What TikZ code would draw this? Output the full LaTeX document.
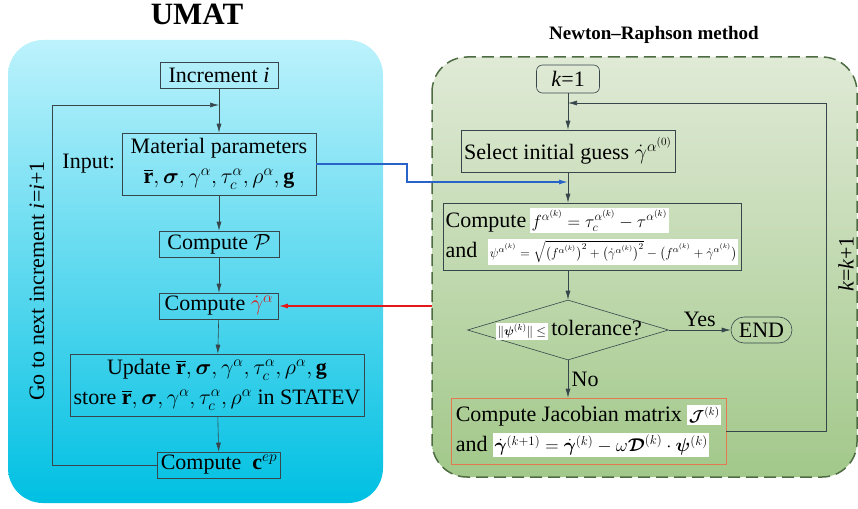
\documentclass[tikz,border=0pt]{standalone}
\usepackage{fix-cm}
\usepackage{amsmath,bm}
\usepackage{fontspec}
\setmainfont{Liberation Serif}
\usetikzlibrary{shapes.geometric,arrows.meta,positioning}

\definecolor{umatTop}{RGB}{188,242,252}
\definecolor{umatMid}{RGB}{80,220,242}
\definecolor{umatBot}{RGB}{0,192,226}
\definecolor{nrTop}{RGB}{224,234,214}
\definecolor{nrBot}{RGB}{162,200,138}
\definecolor{nrEdge}{RGB}{78,108,66}
\definecolor{lineGray}{RGB}{55,70,75}
\definecolor{flowBlue}{RGB}{40,100,200}
\definecolor{flowRed}{RGB}{225,25,25}
\definecolor{jacOrange}{RGB}{228,120,80}

\newcommand{\boxfont}{\fontsize{22}{30}\selectfont}
\newcommand{\eqfont}{\fontsize{17.5}{20}\selectfont}
\newcommand{\smalleqfont}{\fontsize{12.5}{14}\selectfont}
\newcommand{\tinyeqfont}{\fontsize{13}{15}\selectfont}
\setlength{\fboxsep}{1.5pt}

\tikzset{every picture/.style={line width=0.75pt}}
\tikzset{
  procbox/.style={draw=lineGray, line width=0.6pt, inner sep=0pt, font=\boxfont, align=center},
  flowarr/.style={draw=lineGray, line width=0.6pt, -{Latex[length=9pt,width=5pt]}},
}

\begin{document}
\begin{tikzpicture}[x=1pt, y=-1pt]
    \useasboundingbox (0,0) rectangle (858,508);
    % panels
    \shade[rounded corners=35pt, top color=umatTop, middle color=umatMid, bottom color=umatBot] (8,40) rectangle (383,503);
    \shade[rounded corners=35pt, top color=nrTop, bottom color=nrBot] (432,57) rectangle (857,477);
    \draw[nrEdge, line width=1.5pt, dash pattern={on 12pt off 6pt}, rounded corners=35pt] (432,57) rectangle (857,477);
    \node[font=\bfseries\fontsize{31}{34}\selectfont] (umat) at (197,14) {UMAT};
    \node[font=\bfseries\fontsize{19}{22}\selectfont] (nrtitle) at (654,35) {Newton--Raphson method};

    % UMAT side
    \node[procbox, minimum width=118pt, minimum height=26pt] (inc) at (219,75) {Increment \textit{i}};
    \node[procbox, minimum width=194pt, minimum height=62pt] (mat) at (219,164) {Material parameters\\$\overline{\mathbf{r}},\bm{\sigma},\gamma^{\alpha},\tau_{c}^{\alpha},\rho^{\alpha},\mathbf{g}$};
    \node[font=\boxfont, left=3pt of mat] (inlbl) {Input:};
    \node[procbox, minimum width=120pt, minimum height=26pt] (compP) at (219,244) {Compute $\mathcal{P}$};
    \node[procbox, minimum width=119pt, minimum height=26pt] (compG) at (219,306) {Compute {\color{flowRed}$\dot{\gamma}^{\alpha}$}};
    \node[procbox, minimum width=294pt, minimum height=62pt] (upd) at (217,385) {Update $\overline{\mathbf{r}},\bm{\sigma},\gamma^{\alpha},\tau_{c}^{\alpha},\rho^{\alpha},\mathbf{g}$\\store $\overline{\mathbf{r}},\bm{\sigma},\gamma^{\alpha},\tau_{c}^{\alpha},\rho^{\alpha}$ in STATEV};
    \node[procbox, minimum width=123pt, minimum height=26pt] (cep) at (219,465) {Compute \ $\mathbf{c}^{ep}$};
    \node[font=\boxfont, rotate=90, inner sep=0pt] (golbl) at (37,281) {Go to next increment \textit{i}=\textit{i}+1};
    \coordinate (lloop) at (52,105);

    \draw[flowarr] (inc) -- (mat);
    \draw[flowarr] (mat) -- (compP);
    \draw[flowarr] (compP) -- (compG);
    \draw[flowarr] (compG) -- (upd);
    \draw[flowarr] (upd) -- (cep);
    \draw[flowarr] (cep.west) -| (lloop) -- (lloop -| inc.south);

    % Newton-Raphson side
    \node[procbox, rounded corners=6pt, minimum width=63pt, minimum height=28pt] (kone) at (568,79) {\textit{k}=1};
    \node[procbox, minimum width=214pt, minimum height=42pt] (sel) at (568,151) {Select initial guess $\dot{\gamma}^{\alpha^{(0)}}$};
    \node[procbox, align=left, minimum width=298pt, minimum height=67pt] (cmp) at (592,236.5) {Compute\,\colorbox{white}{\eqfont$f^{\alpha^{(k)}}=\tau_{c}^{\alpha^{(k)}}-\tau^{\alpha^{(k)}}$}\\ and\ \ \colorbox{white}{\tinyeqfont$\psi^{\alpha^{(k)}}=\sqrt{\bigl(f^{\alpha^{(k)}}\bigr)^{2}+\bigl(\dot{\gamma}^{\alpha^{(k)}}\bigr)^{2}}-\bigl(f^{\alpha^{(k)}}+\dot{\gamma}^{\alpha^{(k)}}\bigr)$}};
    \node[draw=lineGray, line width=0.6pt, diamond, minimum width=201pt, minimum height=60pt, inner sep=0pt] (dia) at (568,330) {};
    \node[font=\boxfont, inner sep=0pt] (tol) at (569,330) {\colorbox{white}{\smalleqfont$\|\bm{\psi}^{(k)}\|\le$}\,tolerance?};
    \node[procbox, rounded corners=13pt, minimum width=61pt, minimum height=26pt] (fin) at (761.5,330) {END};
    \node[procbox, draw=jacOrange, align=left, minimum width=275pt, minimum height=66pt] (jac) at (588.5,431) {Compute Jacobian matrix \colorbox{white}{\fontsize{16}{18}\selectfont$\bm{\mathcal{J}}^{(k)}$}\\ and \colorbox{white}{\fontsize{18.5}{21}\selectfont$\dot{\bm{\gamma}}^{(k+1)}=\dot{\bm{\gamma}}^{(k)}-\omega\bm{\mathcal{D}}^{(k)}\cdot\bm{\psi}^{(k)}$}};
    \node[font=\boxfont, rotate=90, inner sep=0pt] (kklbl) at (846,264) {\textit{k}=\textit{k}+1};
    \coordinate (rloop) at (826,103);

    \draw[flowarr] (kone) -- (sel);
    \draw[flowarr] (sel.south) -- (sel.south |- cmp.north);
    \draw[flowarr] (cmp.south -| dia.north) -- (dia.north);
    \draw[flowarr] (dia.east) -- (fin.west) node[midway, above, font=\boxfont] {Yes};
    \draw[flowarr] (dia.south) -- (dia.south |- jac.north) node[midway, right, font=\boxfont] {No};
    \draw[flowarr] (jac.east) -| (rloop) -- (rloop -| kone.south);

    % links between the two sides
    \coordinate (bluebend) at (407,182);
    \coordinate (redstart) at (432,306);
    \draw[flowarr, draw=flowBlue, line width=1.2pt] (mat.east) -| (bluebend) -- (bluebend -| sel.south);
    \draw[flowarr, draw=flowRed, line width=1.2pt] (redstart) -- (compG.east);
\end{tikzpicture}
\end{document}
